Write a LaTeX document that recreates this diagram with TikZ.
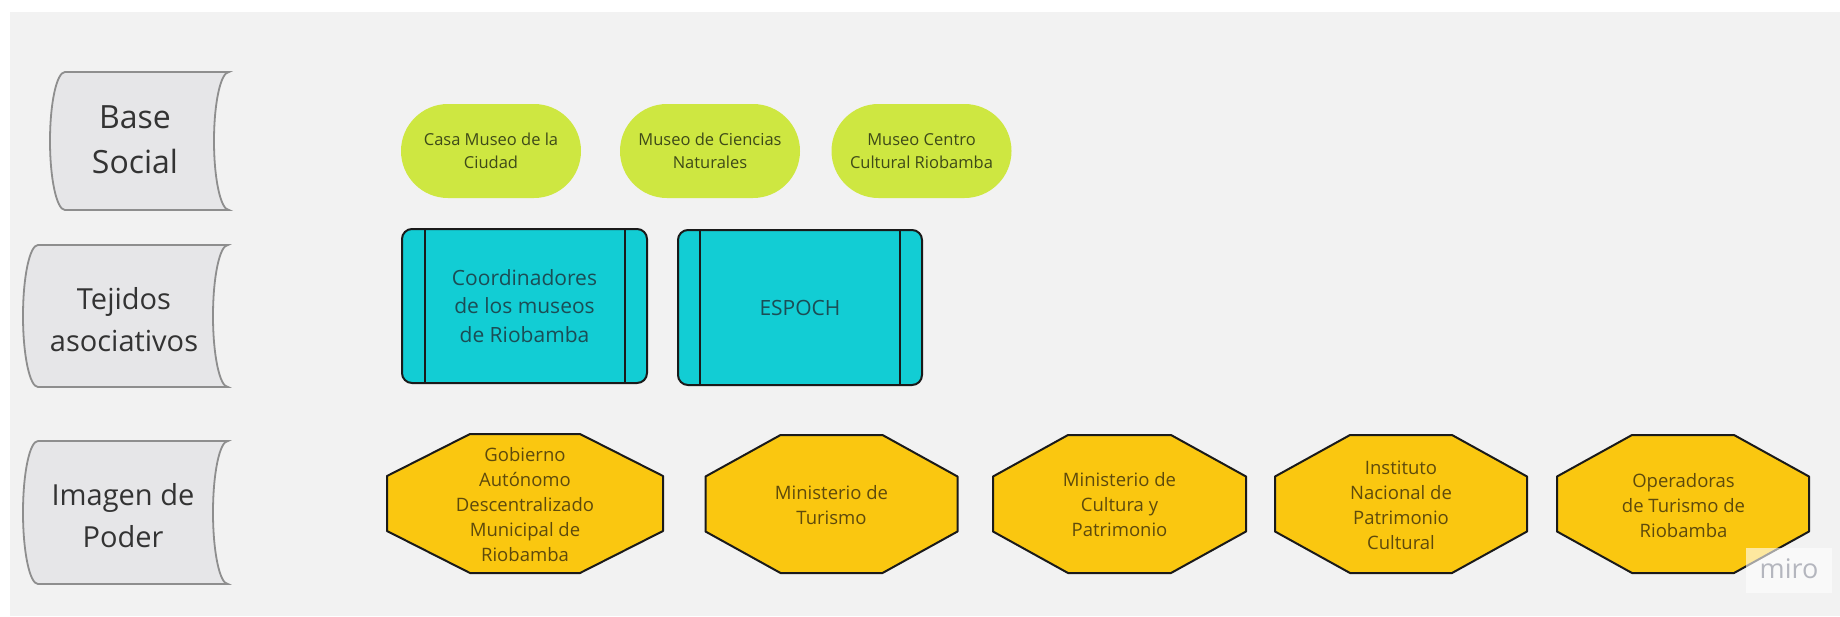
\documentclass[tikz,border=0pt]{standalone}
\usepackage{fontspec}
\setmainfont{Open Sans}
\usepackage{xcolor}
\usepackage{tikz}
\definecolor{lienzo}{HTML}{F2F2F2}
\definecolor{etiqfondo}{HTML}{E6E6E8}
\definecolor{etiqborde}{HTML}{8E8E8E}
\definecolor{etiqtexto}{HTML}{333333}
\definecolor{museoverde}{HTML}{CEE741}
\definecolor{museotexto}{HTML}{3E4A18}
\definecolor{tejidoazul}{HTML}{12CDD4}
\definecolor{tejidotexto}{HTML}{1B4D55}
\definecolor{poderamarillo}{HTML}{FAC710}
\definecolor{podertexto}{HTML}{5E4A0C}
\definecolor{borde}{HTML}{1A1A1A}
\definecolor{marcagris}{HTML}{B4B6BE}

\begin{document}
\begin{tikzpicture}[x=0.5pt,y=-0.5pt,
    etiqueta/.style={fill=etiqfondo, draw=etiqborde, line width=0.9pt},
    etiqtxt/.style={text=etiqtexto, align=center, inner sep=0pt, font=\fontsize{14.5}{21}\selectfont},
    museo/.style={fill=museoverde, rounded corners=23.5pt, minimum width=90pt, minimum height=47pt,
        inner sep=0pt, align=center, text=museotexto, font=\fontsize{8.25}{11.65}\selectfont},
    tejido/.style={fill=tejidoazul, draw=borde, line width=1pt, rounded corners=5pt, inner sep=0pt,
        align=center, text=tejidotexto, font=\fontsize{10.5}{14.25}\selectfont},
    tejidoraya/.style={draw=borde, line width=1pt},
    poder/.style={fill=poderamarillo, draw=borde, line width=1pt, line join=round},
    podertxt/.style={align=center, inner sep=0pt, text=podertexto, font=\fontsize{9.25}{12.5}\selectfont}]
        \useasboundingbox (0,0) rectangle (1840,616);
        \fill[lienzo] (10,12) rectangle (1840,616);

        % etiquetas de la izquierda
        \draw[etiqueta] (65,72) -- (229,72) .. controls (220.7,72) and (214,102.9) .. (214,141)
            .. controls (214,179.1) and (220.7,210) .. (229,210) -- (65,210)
            .. controls (56.7,210) and (50,179.1) .. (50,141) .. controls (50,102.9) and (56.7,72) .. (65,72) -- cycle;
        \draw[etiqueta] (38,245) -- (228,245) .. controls (219.7,245) and (213,276.8) .. (213,316)
            .. controls (213,355.2) and (219.7,387) .. (228,387) -- (38,387)
            .. controls (29.7,387) and (23,355.2) .. (23,316) .. controls (23,276.8) and (29.7,245) .. (38,245) -- cycle;
        \draw[etiqueta] (38,441) -- (228,441) .. controls (219.7,441) and (213,473) .. (213,512.5)
            .. controls (213,552) and (219.7,584) .. (228,584) -- (38,584)
            .. controls (29.7,584) and (23,552) .. (23,512.5) .. controls (23,473) and (29.7,441) .. (38,441) -- cycle;
        \node[etiqtxt, font=\fontsize{16}{22.5}\selectfont] (base) at (135,140) {Base\\Social};
        \node[etiqtxt] (tejidos) at (124,320) {Tejidos\\asociativos};
        \node[etiqtxt] (imagen) at (123,516) {Imagen de\\Poder};

        % base social
        \node[museo] (casa) at (491,151) {Casa Museo de la\\Ciudad};
        \node[museo] (ciencias) at (710,151) {Museo de Ciencias\\Naturales};
        \node[museo] (centro) at (921.5,151) {Museo Centro\\Cultural Riobamba};

        % tejidos asociativos
        \node[tejido, minimum width=122.5pt, minimum height=77pt] (coord) at (524.5,306)
            {Coordinadores\\de los museos\\de Riobamba};
        \node[tejido, minimum width=122pt, minimum height=77.5pt] (espoch) at (800,307.5) {ESPOCH};
        \draw[tejidoraya] ([xshift=11.75pt]coord.north west) -- ([xshift=11.75pt]coord.south west);
        \draw[tejidoraya] ([xshift=-11.75pt]coord.north east) -- ([xshift=-11.75pt]coord.south east);
        \draw[tejidoraya] ([xshift=11.5pt]espoch.north west) -- ([xshift=11.5pt]espoch.south west);
        \draw[tejidoraya] ([xshift=-11.5pt]espoch.north east) -- ([xshift=-11.5pt]espoch.south east);

        % imagen de poder
        \draw[poder] (470,434) -- (580,434) -- (663,476) -- (663,531) -- (580,573) -- (470,573) -- (387,531) -- (387,476) -- cycle;
        \draw[poder] (780.5,435) -- (882.5,435) -- (957.5,476.5) -- (957.5,531.5) -- (882.5,573) -- (780.5,573) -- (705.5,531.5) -- (705.5,476.5) -- cycle;
        \draw[poder] (1068,435) -- (1171,435) -- (1246,476.5) -- (1246,531.5) -- (1171,573) -- (1068,573) -- (993,531.5) -- (993,476.5) -- cycle;
        \draw[poder] (1350,435) -- (1452,435) -- (1527,476.5) -- (1527,531.5) -- (1452,573) -- (1350,573) -- (1275,531.5) -- (1275,476.5) -- cycle;
        \draw[poder] (1632,435) -- (1734,435) -- (1809,476.5) -- (1809,531.5) -- (1734,573) -- (1632,573) -- (1557,531.5) -- (1557,476.5) -- cycle;
        \node[podertxt] (gad) at (525,504.5) {Gobierno\\Autónomo\\Descentralizado\\Municipal de\\Riobamba};
        \node[podertxt] (mintur) at (831.5,505.5) {Ministerio de\\Turismo};
        \node[podertxt] (mincult) at (1119.5,505) {Ministerio de\\Cultura y\\Patrimonio};
        \node[podertxt] (inpc) at (1401,505.5) {Instituto\\Nacional de\\Patrimonio\\Cultural};
        \node[podertxt] (operadoras) at (1683.5,505.5) {Operadoras\\de Turismo de\\Riobamba};

        % marca
        \fill[white, opacity=0.6] (1746,548) rectangle (1832,593);
        \node[text=marcagris, inner sep=0pt, font=\fontsize{13.5}{16}\selectfont] (marca) at (1789,569) {miro};
\end{tikzpicture}
\end{document}
